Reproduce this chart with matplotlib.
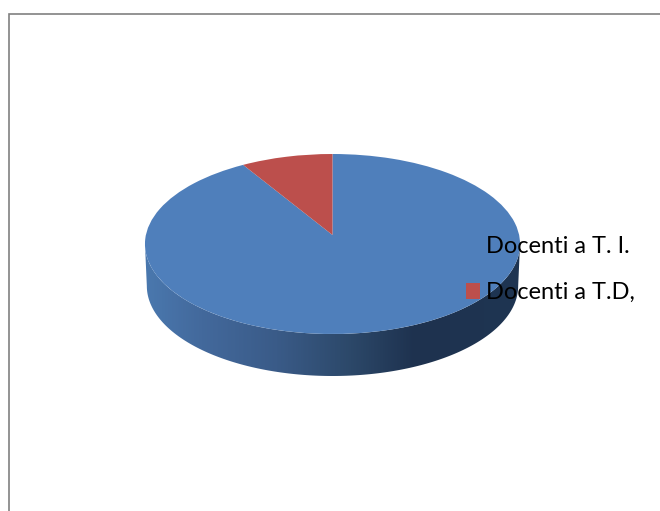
import numpy as np
import matplotlib
matplotlib.use("Agg")
import matplotlib.pyplot as plt
from matplotlib.colors import LinearSegmentedColormap
from matplotlib.patches import Polygon
from matplotlib.transforms import Transform

labels = ["Docenti a T. I.", "Docenti a T.D,"]
values = [91.3, 8.7]
colors = ["#4f7fbb", "#bc4f4c"]

plt.rcParams["font.family"] = ["Lato", "DejaVu Sans"]

# tilted disc seen in perspective, all in pixels of the picture
cx, cy = 332.5, 235.0
rx, ry = 186.6, 89.1
k = 0.1
depth = 42


class Tilt(Transform):
    input_dims = 2
    output_dims = 2

    def transform_non_affine(self, values):
        u, v = values[:, 0], values[:, 1]
        w = 1 + k * v
        return np.column_stack([cx + rx * u / w, cy - ry * v / w])


fig = plt.figure(figsize=(6.6, 5.11), dpi=100)
ax = fig.add_axes([0, 0, 1, 1])

wedges, _ = ax.pie(values, colors=colors, startangle=90, counterclock=False,
                   wedgeprops={"linewidth": 0})
ax.set_aspect("auto")
ax.set_xlim(0, 660)
ax.set_ylim(511, 0)
for w in wedges:
    w.set_transform(Tilt() + ax.transData)
    w.set_zorder(3)

# side wall of the disc, shaded left to right
t = np.linspace(np.pi + k, 2 * np.pi - k, 200)
front = Tilt().transform(np.column_stack([np.cos(t), np.sin(t)]))
lower = front.copy()
lower[:, 0] = cx + 0.99 * (lower[:, 0] - cx)
lower[:, 1] += depth
wall = Polygon(np.vstack([front, lower[::-1]]), closed=True, facecolor="none",
               edgecolor="none", transform=ax.transData)
ax.add_patch(wall)
shade = LinearSegmentedColormap.from_list("wall", [
    (0.00, "#4a78ae"), (0.15, "#43699c"), (0.35, "#3a5b88"),
    (0.55, "#2c4869"), (0.72, "#1e324f"), (1.00, "#1f3552"),
])
img = ax.imshow(np.linspace(0, 1, 400).reshape(1, -1), cmap=shade, aspect="auto",
                extent=(145, 520, 380, 240), zorder=2)
img.set_clip_path(wall)
ax.set_xlim(0, 660)
ax.set_ylim(511, 0)

# chart frame, only top and left fall inside the picture
ax.plot([8.8, 8.8, 660], [511, 13.8, 13.8], color="#808080", lw=1.2, zorder=1,
        solid_joinstyle="miter")

ax.legend(wedges, labels, frameon=False, fontsize=17, loc="upper left",
          bbox_to_anchor=(465.5 / 660, 1 - 236 / 511), borderaxespad=0, borderpad=0,
          handlelength=0.635, handleheight=0.635, handletextpad=0.25, labelspacing=1.07,
          labelcolor="black").set_zorder(5)

fig.savefig("out.png", dpi=100)
